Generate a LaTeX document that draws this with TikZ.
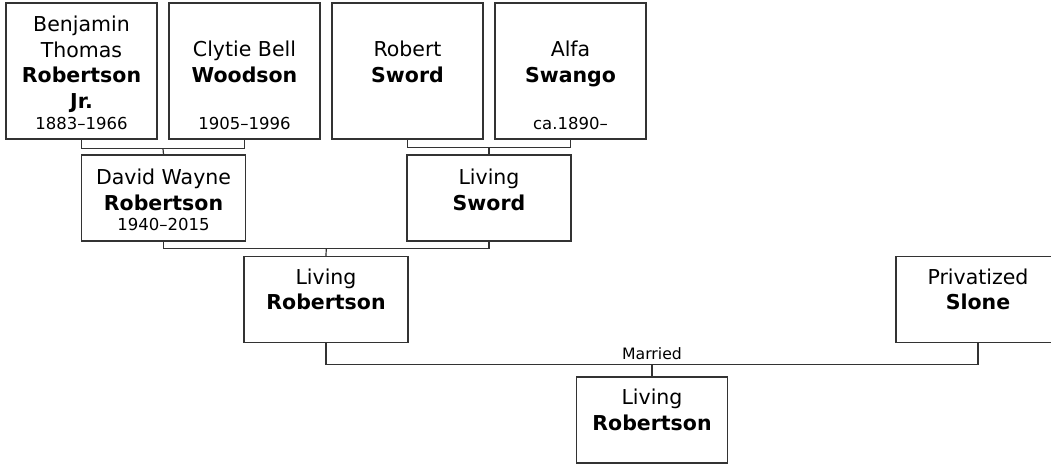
\documentclass[tikz,border=0pt]{standalone}
\usepackage{fontspec}
\setmainfont{DejaVu Sans}
\usetikzlibrary{calc}
\definecolor{linegray}{HTML}{333333}
\newcommand\nmfont{\fontsize{20.5}{25.7}\selectfont}
\newcommand\dtfont{\fontsize{16.5}{20}\selectfont}
\tikzset{
  person/.style={draw=linegray,line width=1.2pt,inner sep=0pt,
    minimum width=151pt,minimum height=136pt},
  low/.style={minimum height=86pt},
  wide/.style={minimum width=164pt},
  names/.style={font=\nmfont,align=center,anchor=north,inner sep=0pt},
  dates/.style={font=\dtfont,anchor=base,inner sep=0pt},
  link/.style={draw=linegray,line width=1.2pt}
}

\begin{document}
\begin{tikzpicture}[x=1pt,y=-1pt]
  \useasboundingbox (0,0) rectangle (1051,464);
  \clip (0,0) rectangle (1051,464);
  % grandparents
  \node[person] (bt) at (81.5,71) {};
  \node[person] (cw) at (244.5,71) {};
  \node[person] (rs) at (407.5,71) {};
  \node[person] (as) at (570.5,71) {};
  % parents
  \node[person,low,wide] (dw) at (163.5,198) {};
  \node[person,low,wide] (ls) at (489,198) {};
  % couple and child
  \node[person,low,wide] (lr) at (326,299.5) {};
  \node[person,low,wide] (ps) at (978,299.5) {};
  \node[person,low] (ch) at (652,420) {};

  \node[names] (bt-n) at ($(bt.north)+(0,11)$)
    {\strut Benjamin\\Thomas\\\textbf{Robertson}\\\textbf{Jr.}};
  \node[dates] (bt-d) at ($(bt.south)+(0,-10)$) {1883–1966};
  \node[names] (cw-n) at ($(cw.north)+(0,36)$) {\strut Clytie Bell\\\textbf{Woodson}};
  \node[dates] (cw-d) at ($(cw.south)+(0,-10)$) {1905–1996};
  \node[names] (rs-n) at ($(rs.north)+(0,36)$) {\strut Robert\\\textbf{Sword}};
  \node[names] (as-n) at ($(as.north)+(0,36)$) {\strut Alfa\\\textbf{Swango}};
  \node[dates] (as-d) at ($(as.south)+(0,-10)$) {ca.1890–};
  \node[names] (dw-n) at ($(dw.north)+(0,12)$) {\strut David Wayne\\\textbf{Robertson}};
  \node[dates] (dw-d) at ($(dw.south)+(0,-11)$) {1940–2015};
  \node[names] (ls-n) at ($(ls.north)+(0,12)$) {\strut Living\\\textbf{Sword}};
  \node[names] (lr-n) at ($(lr.north)+(0,10)$) {\strut Living\\\textbf{Robertson}};
  \node[names] (ps-n) at ($(ps.north)+(0,10)$) {\strut Privatized\\\textbf{Slone}};
  \node[names] (ch-n) at ($(ch.north)+(0,10)$) {\strut Living\\\textbf{Robertson}};

  % family lines
  \coordinate (m1) at ($(bt.south)!0.5!(cw.south)+(0,9)$);
  \coordinate (m2) at ($(rs.south)!0.5!(as.south)+(0,8)$);
  \coordinate (m3) at ($(dw.south)!0.5!(ls.south)+(0,7)$);
  \coordinate (m4) at ($(lr.south)!0.5!(ps.south)+(0,21)$);
  \draw[link] (bt.south) |- (m1) -| (cw.south);
  \draw[link] (m1) -- (dw.north);
  \draw[link] (rs.south) |- (m2) -| (as.south);
  \draw[link] (m2) -- (ls.north);
  \draw[link] (dw.south) |- (m3) -| (ls.south);
  \draw[link] (m3) -- (lr.north);
  \draw[link] (lr.south) |- (m4) -| (ps.south);
  \draw[link] (m4) -- (ch.north);
  \node[dates,font=\fontsize{15.7}{18}\selectfont] (wed) at ($(m4)+(0,-4.5)$) {Married};
\end{tikzpicture}
\end{document}
